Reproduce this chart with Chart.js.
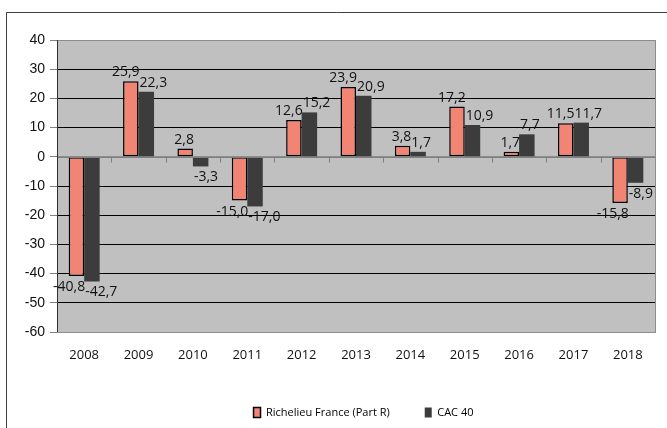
<!DOCTYPE html>
<html>
<head>
<meta charset="utf-8">
<script src="https://cdn.jsdelivr.net/npm/chart.js@4/dist/chart.umd.min.js"></script>
<style>
  html, body { margin: 0; padding: 0; background: #ffffff; }
  #wrap { position: relative; width: 667px; height: 428px; }
</style>
</head>
<body>
<div id="wrap"><canvas id="c" width="667" height="428"></canvas></div>
<script>
const years = ['2008','2009','2010','2011','2012','2013','2014','2015','2016','2017','2018'];
const richelieu = [-40.8, 25.9, 2.8, -15.0, 12.6, 23.9, 3.8, 17.2, 1.7, 11.5, -15.8];
const cac40 = [-42.7, 22.3, -3.3, -17.0, 15.2, 20.9, 1.7, 10.9, 7.7, 11.7, -8.9];
const seriesNames = ['Richelieu France (Part R)', 'CAC 40'];
const yTicks = [40, 30, 20, 10, 0, -10, -20, -30, -40, -50, -60];

const fmt = v => v.toFixed(1).replace('.', ',');

const framePlugin = {
  id: 'frame',
  afterLayout(chart) {
    if (chart.legend) {
      chart.legend.left += 33;
      chart.legend.right += 33;
    }
  },
  beforeDraw(chart) {
    const ctx = chart.ctx;
    ctx.save();
    ctx.fillStyle = '#ffffff';
    ctx.fillRect(0, 0, chart.width, chart.height);
    ctx.strokeStyle = '#404040';
    ctx.lineWidth = 1;
    ctx.beginPath();
    ctx.moveTo(6.5, chart.height);
    ctx.lineTo(6.5, 12.5);
    ctx.lineTo(chart.width, 12.5);
    ctx.stroke();
    const a = chart.chartArea;
    ctx.fillStyle = '#c0c0c0';
    ctx.fillRect(a.left, a.top, a.right - a.left, a.bottom - a.top);
    ctx.restore();
  },
  afterDatasetsDraw(chart) {
    const ctx = chart.ctx;
    const a = chart.chartArea;
    const y = chart.scales.y;
    const y0 = Math.round(y.getPixelForValue(0)) + 0.5;
    ctx.save();
    // zero axis line and category tick marks
    ctx.strokeStyle = '#808080';
    ctx.lineWidth = 1;
    ctx.beginPath();
    ctx.moveTo(a.left, y0);
    ctx.lineTo(a.right, y0);
    for (let i = 0; i <= years.length; i++) {
      const px = Math.round(a.left + (a.right - a.left) * i / years.length) + 0.5;
      ctx.moveTo(px, y0);
      ctx.lineTo(px, y0 + 5);
    }
    ctx.stroke();
    // plot border
    ctx.strokeStyle = '#8c8c8c';
    ctx.strokeRect(Math.round(a.left) + 0.5, Math.round(a.top) + 0.5, Math.round(a.right - a.left), Math.round(a.bottom - a.top));
    // left axis line
    ctx.strokeStyle = '#303030';
    ctx.beginPath();
    ctx.moveTo(Math.round(a.left) + 0.5, a.top);
    ctx.lineTo(Math.round(a.left) + 0.5, a.bottom);
    ctx.stroke();

    // data labels
    ctx.font = '14px "Open Sans"';
    ctx.fillStyle = '#111111';
    chart.data.datasets.forEach((ds, di) => {
      const meta = chart.getDatasetMeta(di);
      meta.data.forEach((bar, i) => {
        const v = ds.data[i];
        const w = bar.width;
        let tx;
        if (di === 0) { ctx.textAlign = 'right'; tx = bar.x + w / 2 + 1; }
        else { ctx.textAlign = 'left'; tx = bar.x - w / 2 + 1; }
        ctx.textBaseline = 'alphabetic';
        const ty = v >= 0 ? bar.y - 5 : bar.y + 15;
        ctx.fillText(fmt(v), tx, ty);
      });
    });
    ctx.restore();
  }
};

new Chart(document.getElementById('c'), {
  type: 'bar',
  data: {
    labels: years,
    datasets: [
      {
        label: seriesNames[0],
        data: richelieu,
        backgroundColor: '#f28474',
        borderColor: '#000000',
        borderWidth: 1.5,
        borderSkipped: false
      },
      {
        label: seriesNames[1],
        data: cac40,
        backgroundColor: '#3c3c3c',
        borderColor: '#3c3c3c',
        borderWidth: 0
      }
    ]
  },
  options: {
    responsive: false,
    animation: false,
    devicePixelRatio: 1,
    layout: { padding: { left: 6, right: 12, top: 40, bottom: 0 } },
    datasets: { bar: { categoryPercentage: 0.57, barPercentage: 1 } },
    plugins: {
      tooltip: { enabled: false },
      legend: {
        position: 'bottom',
        align: 'center',
        labels: {
          boxWidth: 7,
          boxHeight: 10,
          padding: 35,
          color: '#111111',
          font: { family: 'Open Sans', size: 11 },
          generateLabels(chart) {
            return chart.data.datasets.map((ds, i) => ({
              text: ds.label,
              fillStyle: ds.backgroundColor,
              strokeStyle: i === 0 ? '#000000' : ds.backgroundColor,
              lineWidth: i === 0 ? 1.5 : 0,
              hidden: false,
              datasetIndex: i
            }));
          }
        }
      }
    },
    scales: {
      x: {
        grid: { display: false, drawTicks: false },
        border: { display: false },
        ticks: {
          padding: 15,
          color: '#111111',
          font: { family: 'Open Sans', size: 13 },
          maxRotation: 0
        },
        afterFit(s) { s.height = 40; }
      },
      y: {
        min: -60,
        max: 40,
        afterBuildTicks(s) { s.ticks = yTicks.map(v => ({ value: v })); },
        grid: {
          color: ctx => (ctx.tick && (ctx.tick.value === 0 || ctx.tick.value === 40 || ctx.tick.value === -60)) ? '#8c8c8c' : '#000000',
          tickColor: '#808080',
          tickLength: 7,
          lineWidth: 1
        },
        border: { display: false },
        ticks: {
          padding: 5,
          color: '#111111',
          font: { family: 'Liberation Sans', size: 14 }
        },
        afterFit(s) { s.width = 51; }
      }
    }
  },
  plugins: [framePlugin]
});
</script>
</body>
</html>
